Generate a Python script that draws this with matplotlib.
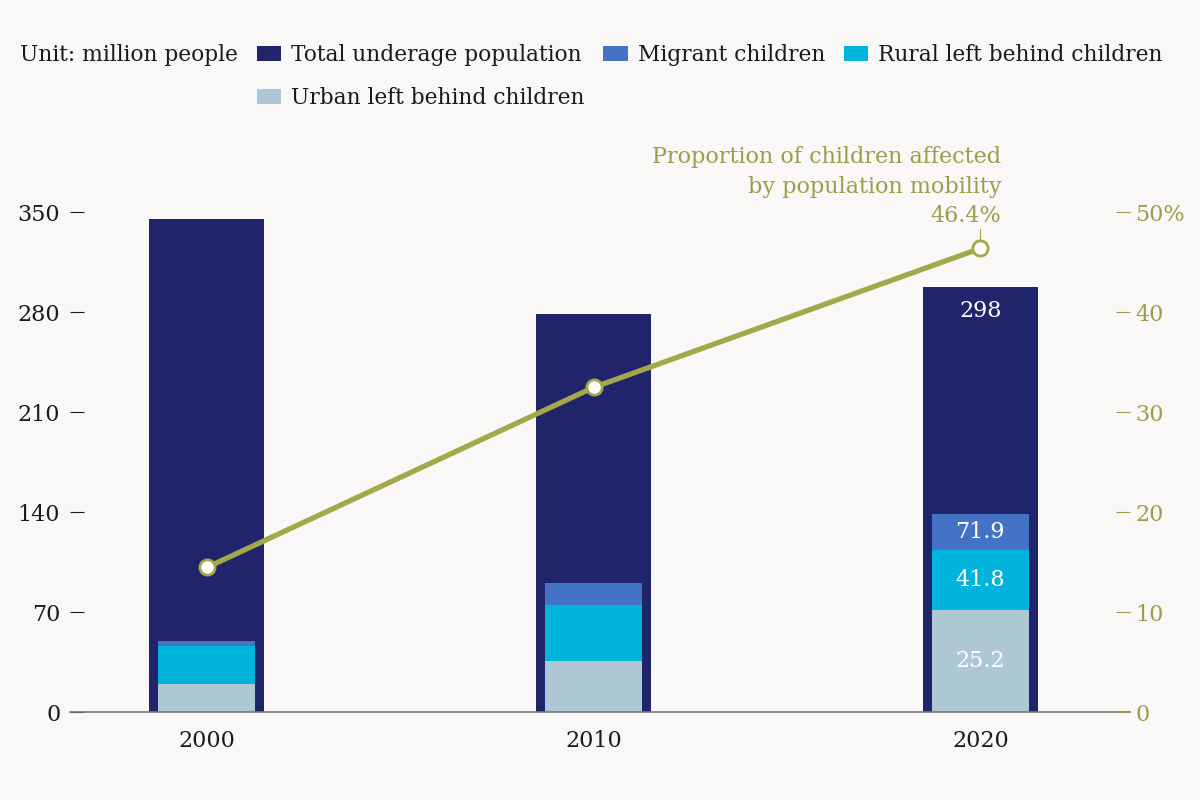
import numpy as np
import matplotlib.pyplot as plt

# values (million people / percent)
years = ['2000', '2010', '2020']
total = [345.2, 278.7, 297.7]
urban_lb = [19.7, 36.0, 71.9]
rural_lb = [27.1, 39.3, 41.8]
migrant = [3.3, 15.2, 25.2]
share = [14.5, 32.5, 46.4]
# labels printed in the 2020 stack, bottom to top (as printed in the source)
labels_2020 = ['25.2', '41.8', '71.9']
total_label_2020 = '298'

BG = '#f9f8f6'
NAVY = '#1f246b'
MIGR = '#4472c4'
RURAL = '#00b4dc'
URBAN = '#adc8d4'
OLIVE = '#a3a84a'
OLIVE_TXT = '#9c9d4c'
INK = '#1a1a1a'

plt.rcParams['font.family'] = ['DejaVu Serif']
FS = 15.7


def main():
    fig = plt.figure(figsize=(12, 8), dpi=100, facecolor=BG)
    ax = fig.add_axes([70 / 1200, (800 - 712.4) / 800, 1060 / 1200, 500 / 800])
    ax.set_facecolor('none')
    x = np.arange(len(years))

    b_tot = ax.bar(x, total, width=0.297, color=NAVY, label='Total underage population', zorder=1)
    b_urb = ax.bar(x, urban_lb, width=0.251, color=URBAN, label='Urban left behind children', zorder=2)
    b_rur = ax.bar(x, rural_lb, width=0.251, bottom=urban_lb, color=RURAL,
                   label='Rural left behind children', zorder=2)
    bot2 = np.array(urban_lb) + np.array(rural_lb)
    b_mig = ax.bar(x, migrant, width=0.251, bottom=bot2, color=MIGR,
                   label='Migrant children', zorder=2)

    # labels on the 2020 bar
    i = 2
    mids = [urban_lb[i] / 2, urban_lb[i] + rural_lb[i] / 2, bot2[i] + migrant[i] / 2]
    for m, t in zip(mids, labels_2020):
        ax.text(x[i], m, t, ha='center', va='center', color='white', fontsize=16, zorder=3)
    ax.text(x[i], total[i] - 17, total_label_2020, ha='center', va='center',
            color='white', fontsize=16, zorder=3)

    ax.set_xlim(-0.354, 2.387)
    ax.set_ylim(0, 350)
    ax.set_yticks([0, 70, 140, 210, 280, 350])
    ax.set_xticks(x)
    ax.set_xticklabels(years)
    for s in ['left', 'right', 'top']:
        ax.spines[s].set_visible(False)
    ax.spines['bottom'].set_color('#777777')
    ax.spines['bottom'].set_linewidth(1.2)
    ax.tick_params(axis='y', direction='in', length=10, width=0.8, color=INK,
                   pad=7, labelsize=16, labelcolor=INK)
    ax.tick_params(axis='x', length=0, pad=13, labelsize=16, labelcolor=INK)

    ax2 = ax.twinx()
    ax2.set_ylim(0, 50)
    ax2.set_yticks([0, 10, 20, 30, 40, 50])
    ax2.set_yticklabels(['0', '10', '20', '30', '40', '50%'])
    for s in ['left', 'right', 'top', 'bottom']:
        ax2.spines[s].set_visible(False)
    ax2.tick_params(axis='y', direction='in', length=10, width=0.8, color=OLIVE_TXT,
                    pad=4, labelsize=16, labelcolor=OLIVE_TXT)
    ax2.plot(x, share, color=OLIVE, linewidth=3.8, marker='o', markersize=11,
             markerfacecolor='white', markeredgecolor=OLIVE, markeredgewidth=2, zorder=4)
    ax2.plot([x[2], x[2]], [share[2] + 1.9, share[2] + 0.9], color=OLIVE, linewidth=0.8)
    ax2.text(x[2] + 0.055, share[2] + 2.1, 'Proportion of children affected\nby population mobility\n46.4%',
             ha='right', va='bottom', color=OLIVE_TXT, fontsize=16, linespacing=1.46)

    fig.text(20 / 1200, 1 - 55 / 800, 'Unit: million people', ha='left', va='center',
             color=INK, fontsize=FS)
    fig.legend(handles=[b_tot, b_urb, b_mig, b_rur], ncol=3, frameon=False,
               loc='upper left', bbox_to_anchor=(257 / 1200, 1 - 44 / 800),
               fontsize=FS, handlelength=1.12, handleheight=0.7, handletextpad=0.46,
               columnspacing=0.85, labelspacing=0.98, borderaxespad=0, borderpad=0,
               labelcolor=INK)

    fig.savefig('out.png', dpi=100, facecolor=BG)


if __name__ == '__main__':
    main()
